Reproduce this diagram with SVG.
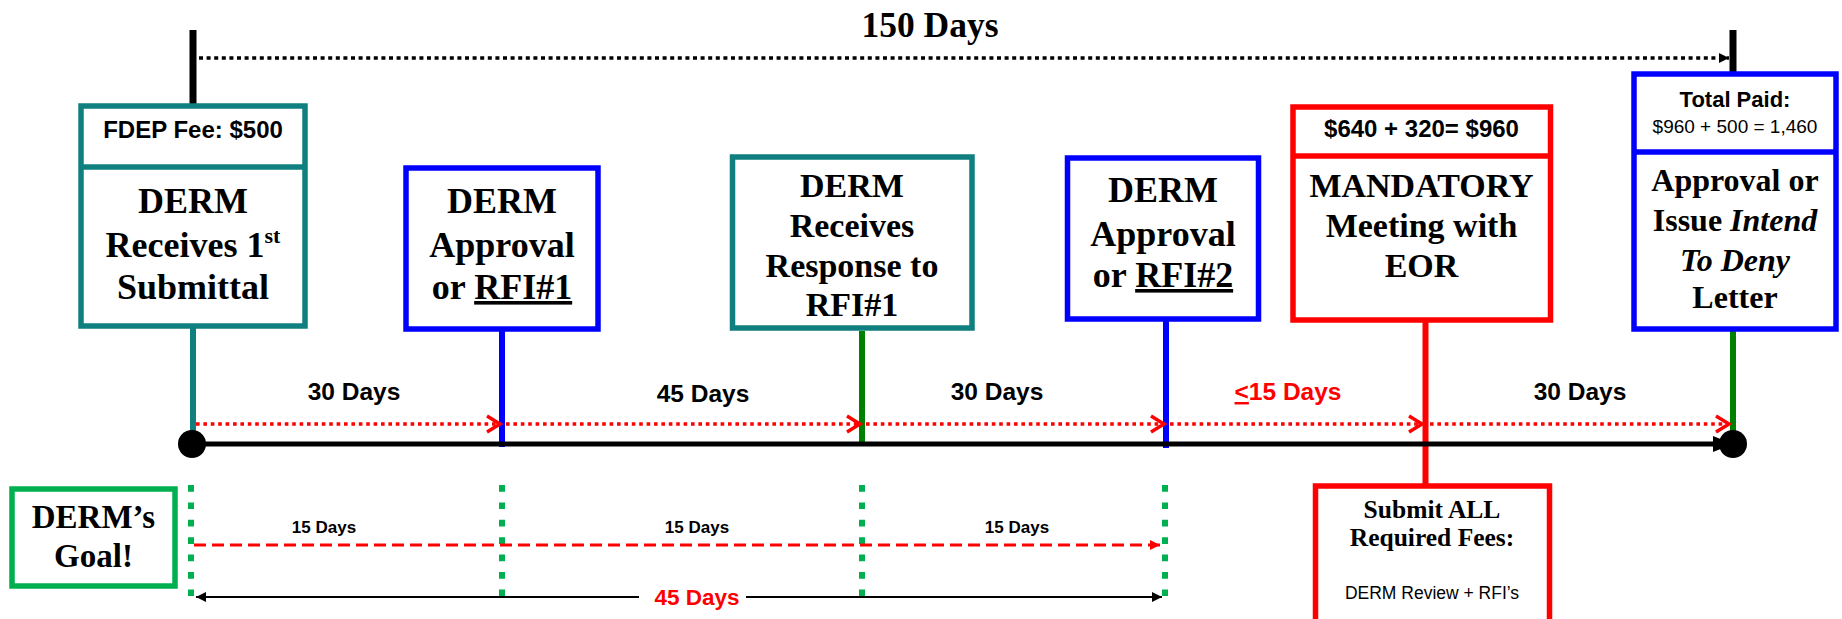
<svg xmlns="http://www.w3.org/2000/svg" width="1842" height="619" viewBox="0 0 1842 619">
<defs>
<style>
.serif{font-family:"Liberation Serif","Times New Roman",serif;font-weight:bold;text-anchor:middle;fill:#000}
.sans{font-family:"Liberation Sans",Arial,sans-serif;font-weight:bold;text-anchor:middle;fill:#000}
.box{fill:#fff;stroke-width:5.5}
.teal{stroke:#0f7f7f}
.blue{stroke:#0000ff}
.red{stroke:#ff0000}
.green{stroke:#00b050}
.stem{stroke-width:6;fill:none}
.reddot{stroke:#ff0000;stroke-width:3.5;stroke-dasharray:3.6 3.8;fill:none}
.gdot{stroke:#00b050;stroke-width:6;stroke-dasharray:6.7 10.7;fill:none}
</style>
<marker id="chev" markerUnits="userSpaceOnUse" markerWidth="24" markerHeight="24" refX="14" refY="9" orient="auto" overflow="visible">
<path d="M1,1 L14,9 L1,17" fill="none" stroke="#ff0000" stroke-width="3.5" stroke-dasharray="none"/>
</marker>
<marker id="blk" markerUnits="userSpaceOnUse" markerWidth="14" markerHeight="14" refX="10" refY="5" orient="auto-start-reverse" overflow="visible">
<path d="M0,0 L10,5 L0,10 z" fill="#000"/>
</marker>
<marker id="blkbig" markerUnits="userSpaceOnUse" markerWidth="24" markerHeight="20" refX="20" refY="8" orient="auto" overflow="visible">
<path d="M0,0 L20,8 L0,16 z" fill="#000"/>
</marker>
<marker id="redtri" markerUnits="userSpaceOnUse" markerWidth="14" markerHeight="14" refX="10" refY="5" orient="auto" overflow="visible">
<path d="M0,0 L10,5 L0,10 z" fill="#ff0000"/>
</marker>
</defs>
<rect width="1842" height="619" fill="#fff"/>

<g id="connectors">
<!-- top 150 days span -->
<line x1="193" y1="30" x2="193" y2="106" stroke="#000" stroke-width="7"/>
<line x1="1733" y1="30" x2="1733" y2="74" stroke="#000" stroke-width="7"/>
<line x1="199" y1="58" x2="1729" y2="58" stroke="#000" stroke-width="3.5" stroke-dasharray="4 3.6" marker-end="url(#blk)"/>
<!-- stems -->
<line class="stem" x1="193" y1="328" x2="193" y2="444" stroke="#0f7f7f"/>
<line class="stem" x1="502" y1="331" x2="502" y2="447" stroke="#0000ff"/>
<line class="stem" x1="862" y1="331" x2="862" y2="444" stroke="#008000"/>
<line class="stem" x1="1166" y1="321" x2="1166" y2="448" stroke="#0000ff"/>
<line class="stem" x1="1425.5" y1="322" x2="1425.5" y2="486" stroke="#ff0000" stroke-width="7"/>
<line class="stem" x1="1733" y1="331" x2="1733" y2="444" stroke="#008000"/>
<!-- main timeline -->
<line x1="192" y1="444" x2="1733" y2="444" stroke="#000" stroke-width="5" marker-end="url(#blkbig)"/>
<circle cx="192" cy="444" r="14" fill="#000"/>
<circle cx="1733" cy="444" r="14" fill="#000"/>
<!-- red dotted period arrows -->
<line class="reddot" x1="196" y1="424" x2="500" y2="424" marker-end="url(#chev)"/>
<line class="reddot" x1="506" y1="424" x2="860" y2="424" marker-end="url(#chev)"/>
<line class="reddot" x1="866" y1="424" x2="1164" y2="424" marker-end="url(#chev)"/>
<line class="reddot" x1="1170" y1="424" x2="1422" y2="424" marker-end="url(#chev)"/>
<line class="reddot" x1="1430" y1="424" x2="1729" y2="424" marker-end="url(#chev)"/>
<!-- goal section -->
<line class="gdot" x1="191" y1="485" x2="191" y2="596"/>
<line class="gdot" x1="502" y1="485" x2="502" y2="596"/>
<line class="gdot" x1="862" y1="485" x2="862" y2="596"/>
<line class="gdot" x1="1165" y1="485" x2="1165" y2="596"/>
<line x1="194" y1="545" x2="1160" y2="545" stroke="#ff0000" stroke-width="3" stroke-dasharray="12 6" marker-end="url(#redtri)"/>
<line x1="196" y1="597" x2="639" y2="597" stroke="#000" stroke-width="2" marker-start="url(#blk)"/>
<line x1="746" y1="597" x2="1162" y2="597" stroke="#000" stroke-width="2" marker-end="url(#blk)"/>
</g>

<g id="labels">
<text class="serif" x="930" y="37" font-size="35.5">150 Days</text>
<text class="sans" x="354" y="400" font-size="24.5">30 Days</text>
<text class="sans" x="703" y="402" font-size="24.5">45 Days</text>
<text class="sans" x="997" y="400" font-size="24.5">30 Days</text>
<text class="sans" x="1288" y="400" font-size="24.5" fill="#ff0000" style="fill:#ff0000"><tspan text-decoration="underline">&lt;</tspan>15 Days</text>
<text class="sans" x="1580" y="400" font-size="24.5">30 Days</text>
<text class="sans" x="324" y="533" font-size="17">15 Days</text>
<text class="sans" x="697" y="533" font-size="17">15 Days</text>
<text class="sans" x="1017" y="533" font-size="17">15 Days</text>
<text class="sans" x="697" y="605" font-size="22.5" style="fill:#ff0000">45 Days</text>
</g>

<g id="node-submittal">
<rect class="box teal" x="81" y="106" width="224" height="220"/>
<line x1="81" y1="167" x2="305" y2="167" stroke="#0f7f7f" stroke-width="5.5"/>
<text class="sans" x="193" y="138" font-size="24">FDEP Fee: $500</text>
<text class="serif" x="193" y="213" font-size="36">DERM</text>
<text class="serif" x="193" y="257" font-size="36">Receives 1<tspan font-size="22" dy="-14">st</tspan></text>
<text class="serif" x="193" y="299" font-size="36">Submittal</text>
</g>

<g id="node-rfi1">
<rect class="box blue" x="406" y="168" width="192" height="161"/>
<text class="serif" x="502" y="213" font-size="36">DERM</text>
<text class="serif" x="502" y="257" font-size="36">Approval</text>
<text class="serif" x="502" y="299" font-size="36">or <tspan text-decoration="underline">RFI#1</tspan></text>
</g>

<g id="node-response">
<rect class="box teal" x="732.5" y="157" width="239.5" height="171"/>
<text class="serif" x="852" y="197" font-size="34">DERM</text>
<text class="serif" x="852" y="237" font-size="34">Receives</text>
<text class="serif" x="852" y="277" font-size="34">Response to</text>
<text class="serif" x="852" y="316" font-size="34">RFI#1</text>
</g>

<g id="node-rfi2">
<rect class="box blue" x="1067.5" y="158" width="191" height="161"/>
<text class="serif" x="1163" y="202" font-size="36">DERM</text>
<text class="serif" x="1163" y="246" font-size="36">Approval</text>
<text class="serif" x="1163" y="287" font-size="36">or <tspan text-decoration="underline">RFI#2</tspan></text>
</g>

<g id="node-meeting">
<rect class="box red" x="1293" y="107" width="257.5" height="213"/>
<line x1="1293" y1="156" x2="1550.5" y2="156" stroke="#ff0000" stroke-width="5.5"/>
<text class="sans" x="1421.5" y="137" font-size="24">$640 + 320= $960</text>
<text class="serif" x="1421.5" y="197" font-size="34">MANDATORY</text>
<text class="serif" x="1421.5" y="237" font-size="34">Meeting with</text>
<text class="serif" x="1421.5" y="277" font-size="34">EOR</text>
</g>

<g id="node-final">
<rect class="box blue" x="1634" y="74" width="202" height="255"/>
<line x1="1634" y1="152" x2="1836" y2="152" stroke="#0000ff" stroke-width="5.5"/>
<text class="sans" x="1735" y="107" font-size="22">Total Paid:</text>
<text class="sans" x="1735" y="133" font-size="19" font-weight="normal" style="font-weight:normal">$960 + 500 = 1,460</text>
<text class="serif" x="1735" y="191" font-size="32">Approval or</text>
<text class="serif" x="1735" y="231" font-size="32">Issue <tspan font-style="italic">Intend</tspan></text>
<text class="serif" x="1735" y="271" font-size="32" font-style="italic">To Deny</text>
<text class="serif" x="1735" y="308" font-size="32">Letter</text>
</g>

<g id="node-fees">
<rect class="box red" x="1315.5" y="486" width="234" height="150"/>
<text class="serif" x="1432" y="518" font-size="25.5">Submit ALL</text>
<text class="serif" x="1432" y="546" font-size="25.5">Required Fees:</text>
<text class="sans" x="1432" y="599" font-size="17.5" style="font-weight:normal">DERM Review + RFI’s</text>
</g>

<g id="node-goal">
<rect class="box green" x="12" y="489" width="163" height="97" stroke-width="4.5"/>
<text class="serif" x="93.5" y="528" font-size="33">DERM’s</text>
<text class="serif" x="93.5" y="567" font-size="33">Goal!</text>
</g>
</svg>
